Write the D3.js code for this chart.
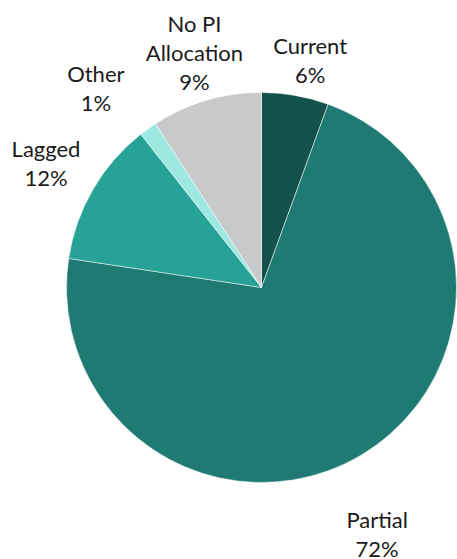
<!DOCTYPE html>
<html>
<head>
<meta charset="utf-8">
<script src="https://cdn.jsdelivr.net/npm/d3@7"></script>
<style>
  html, body { margin: 0; padding: 0; background: #fff; }
  svg { display: block; }
  text { font-family: Lato, "Noto Sans", sans-serif; font-size: 22px; fill: #1a1a1a; }
</style>
</head>
<body>
<svg id="chart" width="457" height="559"></svg>
<script>
// Share of positions by allocation type (percent), clockwise from 12 o'clock
const categories = ["Current", "Partial", "Lagged", "Other", "No PI Allocation"];
const shares = [5.55, 71.83, 12.0, 1.47, 9.15];
const colors = ["#13514c", "#1e7a72", "#27a297", "#9de8e1", "#c8c9cb"];

// Label text lines (category name wrapped where needed)
const labelLines = [["Current"], ["Partial"], ["Lagged"], ["Other"], ["No PI", "Allocation"]];

const W = 457, H = 559;
const cx = 261.5, cy = 287.5, radius = 195;
const labelRadius = 240, lineHeight = 29;
// Offsets from the label anchor on labelRadius to the first baseline
const labelNudge = [[7, 3], [-7, 34], [-8, -10], [-26, -10], [1, -25]];

const svg = d3.select("#chart");
const g = svg.append("g").attr("transform", `translate(${cx},${cy})`);

const data = categories.map((c, i) => ({ name: c, value: shares[i], i }));

const pie = d3.pie().sort(null).value(d => d.value);
const arcs = pie(data);
const arc = d3.arc().innerRadius(0).outerRadius(radius);
const labelArc = d3.arc().innerRadius(labelRadius).outerRadius(labelRadius);

g.selectAll("path.slice")
  .data(arcs)
  .join("path")
  .attr("class", "slice")
  .attr("d", arc)
  .attr("fill", d => colors[d.data.i])
  .attr("stroke", "#ffffff")
  .attr("stroke-width", 0.5);

const labels = g.selectAll("text.label")
  .data(arcs)
  .join("text")
  .attr("class", "label")
  .attr("text-anchor", "middle")
  .attr("transform", d => {
    const [x, y] = labelArc.centroid(d);
    const [dx, dy] = labelNudge[d.data.i];
    return `translate(${x + dx},${y + dy})`;
  });

labels.each(function(d) {
  const lines = labelLines[d.data.i].concat([Math.round(d.data.value) + "%"]);
  d3.select(this).selectAll("tspan")
    .data(lines)
    .join("tspan")
    .attr("x", 0)
    .attr("y", (_, k) => k * lineHeight)
    .text(t => t);
});
</script>
</body>
</html>
